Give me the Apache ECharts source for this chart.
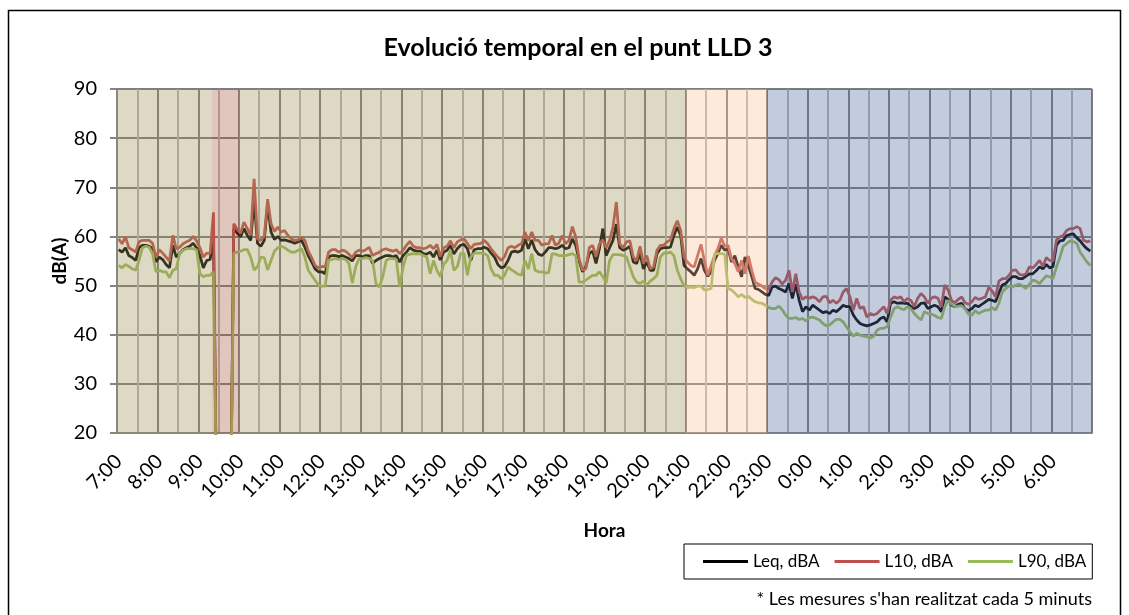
<!DOCTYPE html>
<html>
<head>
<meta charset="utf-8">
<script src="https://cdn.jsdelivr.net/npm/echarts@6/dist/echarts.min.js"></script>
<style>
  html, body { margin: 0; padding: 0; background: #fff; }
  #chart { width: 1129px; height: 615px; }
</style>
</head>
<body>
<div id="chart"></div>
<script>
// 5-minute slots from 7:00 to 6:55 of the next day
const times = [];
for (let k = 0; k < 288; k++) {
  const h = (7 + Math.floor(k / 12)) % 24;
  const m = (k % 12) * 5;
  times.push(h + ":" + String(m).padStart(2, "0"));
}

const leq = [
  57.3, 56.8, 57.7, 56.1, 55.7, 55.1, 57.7, 58.2, 58.2, 58.0, 57.5, 54.8,
  55.8, 55.3, 54.3, 53.6, 58.2, 55.8, 56.5, 57.3, 57.7, 58.0, 58.6, 57.7,
  56.1, 53.6, 55.1, 55.3, 60.0, 0, 0, 0, 0, 0, 61.6, 60.7,
  59.9, 61.6, 60.2, 59.2, 67.3, 58.6, 58.0, 59.2, 66.6, 60.9, 59.4, 60.0,
  59.2, 59.3, 59.1, 58.9, 58.6, 58.9, 59.2, 57.8, 56.1, 54.8, 53.4, 52.8,
  52.8, 52.4, 55.8, 56.1, 56.1, 55.9, 56.1, 55.8, 55.5, 55.0, 56.1, 56.1,
  55.8, 56.1, 56.1, 54.5, 55.1, 55.5, 55.8, 56.1, 56.1, 55.8, 56.1, 54.8,
  56.1, 56.8, 57.7, 57.2, 57.0, 57.0, 56.5, 56.4, 56.8, 55.8, 57.2, 55.2,
  56.8, 57.2, 58.2, 56.4, 57.5, 58.2, 58.4, 57.5, 55.1, 57.3, 57.5, 57.5,
  57.8, 57.5, 56.6, 55.8, 54.3, 53.6, 53.9, 55.1, 56.8, 57.0, 56.8, 57.2,
  59.5, 57.5, 59.3, 57.3, 56.4, 56.1, 56.8, 57.7, 57.7, 57.5, 57.7, 58.2,
  57.5, 57.7, 59.5, 58.2, 55.1, 52.8, 53.8, 56.5, 57.0, 54.5, 57.5, 61.6,
  56.1, 57.7, 59.2, 62.5, 57.7, 57.2, 57.5, 58.0, 54.8, 54.5, 56.5, 53.4,
  54.8, 53.1, 53.1, 56.5, 57.5, 57.7, 57.7, 57.8, 60.2, 61.9, 60.2, 54.1,
  53.4, 52.8, 52.1, 53.4, 55.5, 53.1, 51.9, 52.8, 55.1, 56.5, 58.2, 57.2,
  57.5, 54.8, 56.1, 53.8, 51.8, 55.8, 54.0, 51.8, 49.4, 49.2, 48.7, 48.2,
  48.0, 49.7, 49.9, 49.4, 49.1, 48.7, 50.4, 47.4, 50.3, 47.0, 44.7, 45.7,
  45.0, 46.0, 45.5, 45.0, 44.5, 44.7, 44.3, 45.0, 44.7, 45.3, 46.0, 45.7,
  45.7, 44.0, 43.0, 42.3, 42.0, 41.8, 42.0, 42.3, 42.6, 43.3, 43.6, 42.6,
  46.4, 46.7, 46.4, 46.5, 46.4, 46.4, 45.7, 45.3, 45.7, 46.4, 46.5, 45.3,
  45.7, 46.0, 45.7, 44.7, 47.7, 47.2, 46.0, 45.7, 46.2, 46.4, 45.3, 44.9,
  45.3, 46.0, 45.7, 46.2, 46.7, 47.2, 47.0, 46.7, 48.5, 50.1, 50.4, 51.2,
  51.8, 51.8, 51.4, 51.4, 51.9, 52.4, 52.4, 53.0, 53.8, 53.4, 54.3, 53.6,
  53.9, 58.2, 59.1, 59.2, 60.2, 60.4, 60.5, 59.7, 59.1, 58.2, 57.5, 57.0
];

const l10 = [
  59.5, 58.5, 59.9, 57.7, 57.3, 56.8, 58.9, 59.2, 59.2, 59.2, 58.6, 55.8,
  57.3, 56.6, 55.8, 55.0, 60.2, 57.5, 57.8, 58.5, 58.9, 59.2, 60.0, 59.1,
  57.7, 55.8, 56.6, 56.5, 64.9, 0, 0, 0, 0, 0, 62.6, 61.4,
  60.7, 62.9, 61.6, 60.2, 71.7, 59.5, 59.2, 60.0, 67.6, 62.6, 61.0, 61.9,
  60.9, 61.2, 60.2, 59.5, 59.2, 59.3, 59.9, 59.2, 57.0, 55.7, 54.1, 53.6,
  53.9, 53.8, 56.8, 57.3, 57.3, 56.8, 57.2, 57.0, 56.4, 55.7, 56.8, 57.2,
  57.0, 57.3, 57.8, 56.1, 56.5, 56.8, 57.3, 57.5, 57.2, 57.0, 57.3, 56.5,
  57.2, 58.2, 59.0, 58.0, 57.7, 57.7, 57.5, 57.7, 58.2, 57.5, 58.4, 55.9,
  57.7, 58.0, 59.1, 57.7, 58.9, 59.3, 59.5, 58.6, 57.5, 58.4, 58.5, 58.6,
  59.2, 58.5, 57.5, 56.6, 55.8, 55.1, 55.9, 57.7, 58.0, 57.7, 58.2, 58.5,
  60.9, 59.1, 60.9, 59.2, 59.2, 58.2, 58.5, 58.5, 60.2, 58.2, 58.6, 60.2,
  58.5, 59.2, 62.0, 59.9, 55.5, 53.1, 53.4, 57.7, 58.2, 55.9, 58.5, 59.3,
  57.7, 59.2, 61.9, 67.0, 58.5, 57.7, 58.9, 59.1, 55.8, 55.1, 58.0, 54.5,
  56.1, 53.4, 53.8, 57.2, 58.2, 58.2, 58.9, 59.3, 61.6, 63.2, 61.2, 55.8,
  54.8, 54.1, 53.8, 56.1, 58.4, 55.1, 52.1, 54.1, 56.1, 57.5, 59.7, 58.0,
  58.2, 55.5, 54.5, 52.8, 55.1, 52.4, 56.0, 53.1, 50.7, 50.3, 49.9, 49.4,
  49.2, 50.7, 51.6, 51.2, 50.3, 51.1, 53.1, 48.7, 52.4, 48.7, 47.2, 47.7,
  47.4, 47.7, 47.4, 46.7, 47.7, 47.8, 46.5, 47.0, 46.4, 47.0, 48.7, 49.4,
  47.7, 45.0, 47.4, 45.3, 45.7, 43.6, 44.3, 44.0, 44.3, 45.0, 45.7, 44.3,
  47.0, 47.7, 47.4, 47.7, 46.7, 47.4, 47.0, 45.7, 47.4, 48.4, 47.7, 46.4,
  47.4, 47.7, 47.4, 45.7, 50.1, 49.1, 47.0, 46.5, 47.2, 47.7, 46.5, 46.2,
  46.7, 47.6, 47.2, 47.4, 47.7, 49.6, 48.9, 47.7, 50.9, 51.4, 51.4, 52.1,
  53.1, 53.2, 52.3, 52.1, 52.4, 53.8, 53.6, 54.3, 55.1, 53.9, 55.7, 55.1,
  55.0, 59.3, 59.9, 60.2, 61.2, 61.6, 61.6, 62.0, 61.6, 59.2, 58.9, 59.1
];

const l90 = [
  54.1, 53.6, 54.3, 53.9, 53.4, 53.1, 55.1, 57.7, 58.0, 57.8, 56.5, 52.8,
  53.1, 52.8, 52.8, 51.6, 53.1, 53.4, 56.5, 57.2, 57.5, 57.5, 57.5, 57.3,
  52.4, 51.8, 52.1, 52.1, 52.8, 0, 0, 0, 0, 0, 56.6, 56.8,
  57.0, 57.3, 57.3, 55.8, 53.2, 53.8, 55.8, 55.7, 53.2, 55.1, 57.0, 57.7,
  58.0, 57.7, 57.2, 56.8, 56.8, 57.2, 57.5, 55.8, 53.1, 52.1, 51.1, 50.1,
  49.9, 49.9, 55.1, 55.3, 55.5, 55.3, 55.5, 55.3, 54.5, 50.5, 53.8, 55.5,
  55.5, 55.7, 55.5, 55.1, 50.4, 49.7, 51.8, 55.1, 55.5, 55.5, 55.3, 49.7,
  53.8, 56.1, 56.4, 56.5, 56.4, 56.5, 56.1, 55.8, 52.4, 55.1, 53.1, 51.8,
  54.3, 55.1, 57.2, 53.1, 53.8, 56.5, 56.6, 52.1, 55.8, 56.6, 56.6, 56.6,
  56.5, 56.1, 53.4, 52.1, 52.1, 51.4, 52.1, 53.8, 53.2, 52.8, 52.3, 52.1,
  55.1, 53.4, 56.5, 53.1, 52.8, 52.8, 52.6, 52.6, 56.5, 56.4, 56.1, 56.1,
  56.1, 56.3, 56.5, 56.1, 50.7, 50.7, 51.1, 51.6, 52.1, 52.1, 52.8, 51.8,
  50.5, 55.1, 56.3, 56.3, 56.3, 56.1, 55.8, 53.8, 51.8, 50.7, 50.4, 50.9,
  50.1, 50.9, 51.4, 52.1, 55.8, 56.6, 56.6, 56.8, 56.1, 53.1, 51.4, 49.9,
  49.6, 49.7, 49.6, 49.9, 49.9, 49.1, 49.2, 49.4, 56.4, 56.5, 56.5, 56.4,
  49.4, 49.1, 48.5, 47.7, 48.2, 47.6, 47.8, 47.2, 46.7, 46.5, 46.4, 46.0,
  45.5, 45.3, 45.3, 45.8, 45.1, 44.0, 43.3, 43.3, 43.5, 43.1, 43.3, 42.8,
  43.5, 43.6, 43.3, 43.0, 42.3, 41.8, 42.0, 42.6, 43.1, 43.1, 42.6, 41.6,
  40.6, 39.7, 40.3, 39.9, 39.7, 39.6, 39.3, 39.7, 40.9, 41.3, 41.3, 41.6,
  43.6, 45.3, 45.7, 45.3, 45.1, 45.7, 45.3, 44.3, 43.6, 43.0, 44.7, 44.3,
  44.2, 43.9, 43.5, 43.3, 45.7, 47.0, 46.2, 45.7, 45.8, 45.9, 45.3, 44.2,
  44.0, 44.9, 44.3, 44.7, 45.0, 45.0, 45.5, 45.0, 46.4, 48.7, 49.4, 49.9,
  49.7, 50.1, 50.3, 49.9, 49.4, 50.3, 51.1, 50.9, 50.4, 51.2, 52.0, 51.8,
  51.4, 53.8, 55.7, 58.0, 58.5, 59.1, 58.9, 58.6, 56.8, 55.8, 54.8, 54.1
];

// background periods, in 5-minute slots counted from 7:00
const periods = [
  { from: 0, to: 28, color: "rgba(158,146,86,0.35)" },    // day
  { from: 28, to: 36, color: "rgba(170,92,66,0.35)" },    // incident
  { from: 36, to: 168, color: "rgba(158,146,86,0.35)" },  // day
  { from: 168, to: 192, color: "rgba(249,196,152,0.35)" },// evening
  { from: 192, to: 288, color: "rgba(82,108,156,0.35)" }  // night
];

const FONT = "Lato";

const chart = echarts.init(document.getElementById("chart"), null, { renderer: "canvas" });

chart.setOption({
  animation: false,
  textStyle: { fontFamily: FONT, color: "#000" },
  title: [
    {
      text: "Evolució temporal en el punt LLD 3",
      left: 573, top: 30, textAlign: "center",
      textStyle: { fontFamily: FONT, fontSize: 25, fontWeight: "bold", color: "#000" }
    },
    {
      text: "* Les mesures s'han realitzat cada 5 minuts",
      right: 32, top: 585,
      textStyle: { fontFamily: FONT, fontSize: 18, fontWeight: "normal", color: "#000" }
    }
  ],
  graphic: [{
    type: "rect", silent: true,
    shape: { x: 8.5, y: 10.5, width: 1112, height: 620 },
    style: { fill: "none", stroke: "#000", lineWidth: 1.5 }
  }],
  legend: {
    data: ["Leq, dBA", "L10, dBA", "L90, dBA"],
    left: 684, top: 544,
    icon: "rect",
    borderColor: "#000", borderWidth: 1,
    padding: [9, 6, 9, 19],
    itemGap: 15, itemWidth: 45, itemHeight: 3,
    textStyle: { fontFamily: FONT, fontSize: 17, color: "#000" }
  },
  grid: { left: 117, right: 37, top: 89, bottom: 182, containLabel: false },
  xAxis: [
    {
      type: "category",
      data: times,
      boundaryGap: true,
      name: "Hora", nameLocation: "middle", nameGap: 88, nameMoveOverlap: false,
      nameTextStyle: { fontFamily: FONT, fontSize: 19, fontWeight: "bold", color: "#000" },
      axisLine: { lineStyle: { color: "#858585", width: 2 } },
      axisTick: { interval: 11, length: 7, lineStyle: { color: "#858585", width: 2 } },
      axisLabel: { interval: 11, rotate: 45, fontSize: 20, color: "#000", margin: 25 },
      splitLine: {
        show: true, interval: 5,
        lineStyle: { color: ["#7d7d7d", "#b5b5b5"], width: 2 }
      }
    },
    { type: "value", min: 0, max: 288, show: false }
  ],
  yAxis: {
    type: "value", min: 20, max: 90, interval: 10,
    name: "dB(A)", nameLocation: "middle", nameGap: 48, nameMoveOverlap: false,
    nameTextStyle: { fontFamily: FONT, fontSize: 19, fontWeight: "bold", color: "#000" },
    axisLine: { show: true, lineStyle: { color: "#858585", width: 2 } },
    axisTick: { show: true, length: 7, lineStyle: { color: "#858585", width: 2 } },
    axisLabel: { fontSize: 20, color: "#000", margin: 20 },
    splitLine: { lineStyle: { color: "#7d7d7d", width: 2 } }
  },
  series: [
    {
      name: "Leq, dBA", type: "line", data: leq,
      symbol: "none", showSymbol: false,
      lineStyle: { color: "#000000", width: 2.75 }, itemStyle: { color: "#000000" }
    },
    {
      name: "L10, dBA", type: "line", data: l10,
      symbol: "none", showSymbol: false,
      lineStyle: { color: "#c0504d", width: 2.75 }, itemStyle: { color: "#c0504d" }
    },
    {
      name: "L90, dBA", type: "line", data: l90,
      symbol: "none", showSymbol: false,
      lineStyle: { color: "#9bbb59", width: 2.75 }, itemStyle: { color: "#9bbb59" }
    },
    {
      name: "periods", type: "line", xAxisIndex: 1, data: [],
      silent: true,
      markArea: {
        z: 10, silent: true,
        data: periods.map(p => [
          { xAxis: p.from, itemStyle: { color: p.color } },
          { xAxis: p.to }
        ])
      }
    }
  ]
});
</script>
</body>
</html>
